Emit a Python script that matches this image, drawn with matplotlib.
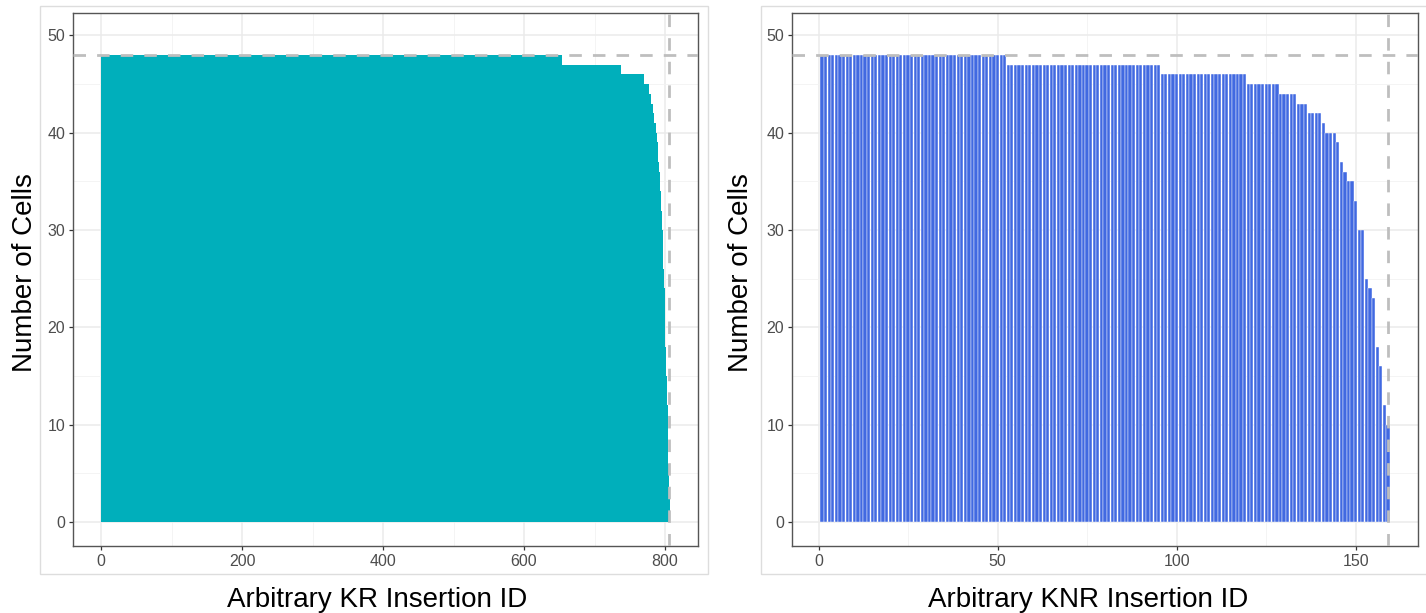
import numpy as np
import matplotlib
matplotlib.use("Agg")
import matplotlib.pyplot as plt
from matplotlib.patches import Rectangle

# ---------------- data ----------------
kr_levels = [48, 47, 46, 45, 44, 43, 42, 41, 40,
             39, 38, 37, 36, 35, 34, 32, 30, 28, 26, 24, 21, 18, 15, 12, 9, 6, 3]
kr_counts = [654, 83, 32, 7, 3, 3, 2, 2, 2,
             1, 1, 1, 1, 1, 1, 1, 1, 1, 1, 1, 1, 1, 1, 1, 1, 1, 1]

knr_levels = [48, 47, 46, 45, 44, 43, 42, 41, 40, 39, 37, 36, 35, 33, 30,
              25, 24, 23, 18, 16, 12, 10]
knr_counts = [52, 43, 24, 9, 5, 3, 4, 1, 3, 1, 1, 1, 2, 1, 2,
              1, 1, 1, 1, 1, 1, 1]

kr_cells = np.repeat(kr_levels, kr_counts)
knr_cells = np.repeat(knr_levels, knr_counts)
kr_ids = np.arange(1, len(kr_cells) + 1)
knr_ids = np.arange(1, len(knr_cells) + 1)

total_cells = 48
x_titles = ["Arbitrary KR Insertion ID", "Arbitrary KNR Insertion ID"]
y_title = "Number of Cells"
y_ticks = [0, 10, 20, 30, 40, 50]
kr_xticks = [0, 200, 400, 600, 800]
knr_xticks = [0, 50, 100, 150]

# ---------------- style ----------------
plt.rcParams['font.family'] = ['Liberation Sans', 'DejaVu Sans']
W, H = 1426, 613
fig = plt.figure(figsize=(W / 100, H / 100), dpi=100)
fig.patch.set_facecolor('white')

def fx(px):
    return px / W

def fy(py):
    return 1 - py / H

# outer light boxes (plot backgrounds)
for (x0, x1) in [(40, 708), (761, 1432)]:
    fig.patches.append(Rectangle((fx(x0), fy(574)), fx(x1 - x0), (574 - 6) / H,
                                 transform=fig.transFigure, fill=False,
                                 edgecolor='#DDDDDD', linewidth=1.0, zorder=0))

ax_top, ax_bot = 13, 546
axL = fig.add_axes([fx(73), fy(ax_bot), fx(698 - 73), (ax_bot - ax_top) / H])
axR = fig.add_axes([fx(792), fy(ax_bot), fx(1418 - 792), (ax_bot - ax_top) / H])

def style(ax, xticks, xminor):
    ax.set_facecolor('white')
    ax.set_yticks(y_ticks)
    ax.set_yticks([5, 15, 25, 35, 45], minor=True)
    ax.set_xticks(xticks)
    ax.set_xticks(xminor, minor=True)
    ax.grid(which='major', color='#EBEBEB', linewidth=1.1, zorder=0)
    ax.grid(which='minor', color='#F2F2F2', linewidth=0.6, zorder=0)
    ax.set_axisbelow(True)
    for s in ax.spines.values():
        s.set_color('#555555')
        s.set_linewidth(1.0)
    ax.tick_params(which='major', length=3.2, width=0.9, color='#333333',
                   labelsize=11.5, labelcolor='#4D4D4D', pad=2.5)
    ax.tick_params(which='minor', length=0)
    ax.set_ylim(-2.46, 52.3)

def draw(ax, ids, cells, color, edge, lw, width):
    n = len(ids)
    ax.bar(ids, cells, width=width, color=color, edgecolor=edge,
           linewidth=lw, zorder=2)
    lo, hi = 1 - 0.45, n + 0.45
    pad = 0.05 * (hi - lo)
    ax.set_xlim(lo - pad, hi + pad)
    ax.axhline(total_cells, color='#BEBEBE', linewidth=2.0,
               linestyle=(0, (4.5, 4.0)), zorder=3)
    ax.axvline(n, color='#BEBEBE', linewidth=2.0,
               linestyle=(0, (4.5, 4.0)), zorder=3)

draw(axL, kr_ids, kr_cells, '#00AFBB', 'none', 0, 1.0)
style(axL, kr_xticks, [100, 300, 500, 700])
draw(axR, knr_ids, knr_cells, '#4169E1', 'white', 0.3, 0.9)
style(axR, knr_xticks, [25, 75, 125])
axL.set_xlim(-39.7, 846.7)
axR.set_xlim(-7.4, 167.4)

# axis titles (outside the plot boxes)
fig.text(fx(25), fy(273), y_title, rotation=90, ha='center', va='center',
         fontsize=20, color='black')
fig.text(fx(741), fy(273), y_title, rotation=90, ha='center', va='center',
         fontsize=20, color='black')
fig.text(fx(377), fy(600), x_titles[0], ha='center', va='center',
         fontsize=20, color='black')
fig.text(fx(1088), fy(600), x_titles[1], ha='center', va='center',
         fontsize=20, color='black')

fig.savefig('out.png', dpi=100)
